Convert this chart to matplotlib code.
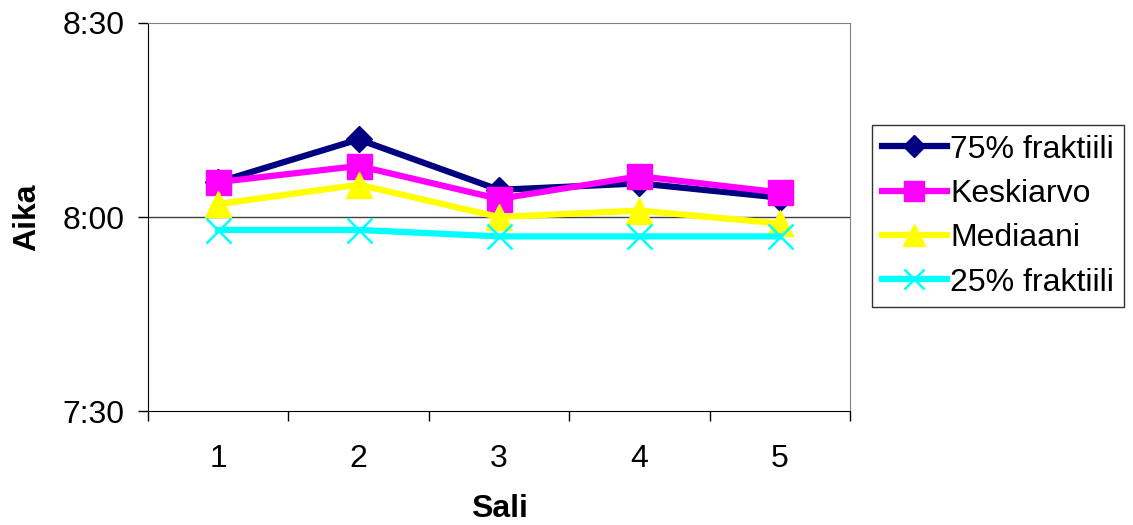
"""Arrival times per hall: quartiles, mean and median."""
import matplotlib.pyplot as plt
from matplotlib.ticker import FixedLocator

plt.rcParams["font.family"] = ["Liberation Sans", "DejaVu Sans"]

halls = [1, 2, 3, 4, 5]
# minutes relative to 8:00
q75 = [5.4, 12.0, 4.2, 5.2, 3.0]
mean = [5.4, 7.9, 2.8, 6.3, 3.8]
median = [2.0, 5.0, 0.0, 1.0, -1.0]
q25 = [-2.0, -2.0, -3.0, -3.0, -3.0]

y_ticks = [-30, 0, 30]
y_labels = ["7:30", "8:00", "8:30"]

fig = plt.figure(figsize=(11.33, 5.25), dpi=100)
ax = fig.add_axes([0.1306, 0.2171, 0.6196, 0.7391])

ax.plot(halls, q75, color="#000080", lw=4.5, marker="D", ms=13.5, label="75% fraktiili")
ax.plot(halls, mean, color="#FF00FF", lw=4.5, marker="s", ms=18, label="Keskiarvo")
ax.plot(halls, median, color="#FFFF00", lw=4.5, marker="^", ms=19, label="Mediaani")
ax.plot(halls, q25, color="#00FFFF", lw=4.5, marker="x", ms=18, mew=1.8, label="25% fraktiili")

ax.set_xlim(0.5, 5.5)
ax.set_ylim(-30, 30)
ax.set_yticks(y_ticks)
ax.set_yticklabels(y_labels)
ax.set_xticks(halls)
ax.xaxis.set_minor_locator(FixedLocator([0.5, 1.5, 2.5, 3.5, 4.5, 5.5]))
ax.tick_params(axis="x", which="major", length=0, pad=24, labelsize=23)
ax.tick_params(axis="x", which="minor", length=7, width=1, direction="out")
ax.tick_params(axis="y", length=7, width=1, direction="out", pad=10, labelsize=23)

ax.axhline(0, color="#404040", lw=1, zorder=1)
for side in ("top", "right"):
    ax.spines[side].set_color("#808080")
for side in ("left", "bottom"):
    ax.spines[side].set_color("black")

ax.set_xlabel("Sali", fontsize=23, fontweight="bold")
ax.xaxis.set_label_coords(0.5, -0.215)
ax.set_ylabel("Aika", fontsize=23, fontweight="bold")
ax.yaxis.set_label_coords(-0.151, 0.5)

leg = ax.legend(loc="upper left", bbox_to_anchor=(0.7696, 0.762),
                bbox_transform=fig.transFigure, fontsize=23, frameon=True,
                fancybox=False, edgecolor="black", handlelength=2.05,
                handletextpad=0.1, borderpad=0.3, labelspacing=0.45,
                markerscale=0.8, borderaxespad=0)
leg.get_frame().set_linewidth(1)

fig.savefig("out.png", dpi=100)
